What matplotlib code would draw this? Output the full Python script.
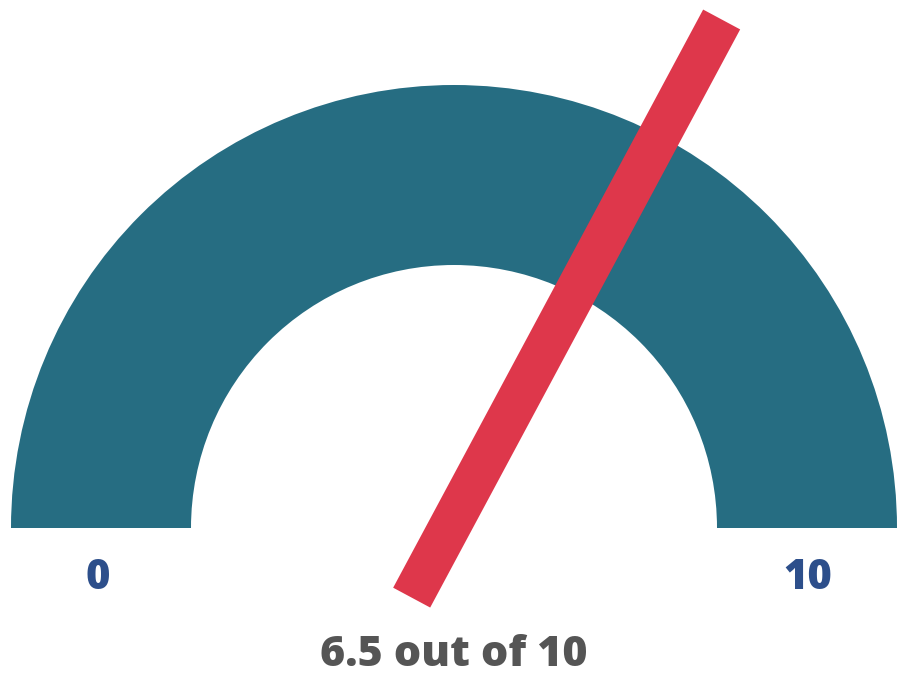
import numpy as np
import matplotlib
matplotlib.use("Agg")
import matplotlib.pyplot as plt
from matplotlib.patches import Wedge, Polygon

value = 6.5
min_value = 0
max_value = 10
labels = ["0", "10"]
caption = "6.5 out of 10"

W, H = 903, 677
cx, cy = 454, 528
R_out = 443.0
R_in = 263.0

fig = plt.figure(figsize=(W / 100, H / 100), dpi=100)
ax = fig.add_axes([0, 0, 1, 1])
ax.set_xlim(-cx / R_out, (W - cx) / R_out)
ax.set_ylim(-(H - cy) / R_out, cy / R_out)
ax.axis("off")

ax.add_patch(Wedge((0, 0), 1.0, 0, 180, width=1.0 - R_in / R_out,
                   facecolor="#266d82", edgecolor="none"))

frac = (value - min_value) / (max_value - min_value)
theta = np.pi * (1 - frac) - np.radians(1.2)
d = np.array([np.cos(theta), np.sin(theta)])
n = np.array([-d[1], d[0]])
back = 79 / R_out
fwd = 577 / R_out
hw = 21 / R_out
off = np.array([-5.0 / R_out, 0])
p0 = off - d * back
p1 = off + d * fwd
poly = [p0 + n * hw, p1 + n * hw, p1 - n * hw, p0 - n * hw]
ax.add_patch(Polygon(poly, closed=True, facecolor="#de374b", edgecolor="none", zorder=3))

fp = dict(family=["Open Sans", "DejaVu Sans"], fontweight="heavy")
ax.text(-(cx - 98) / R_out, -(578 - cy) / R_out, labels[0], color="#2d4f8b",
        fontsize=30, ha="center", va="center", **fp)
ax.text((808 - cx) / R_out, -(578 - cy) / R_out, labels[1], color="#2d4f8b",
        fontsize=30, ha="center", va="center", **fp)
ax.text(0, -(655 - cy) / R_out, caption, color="#555555",
        fontsize=31, ha="center", va="center", **fp)

fig.savefig("out.png", dpi=100)
